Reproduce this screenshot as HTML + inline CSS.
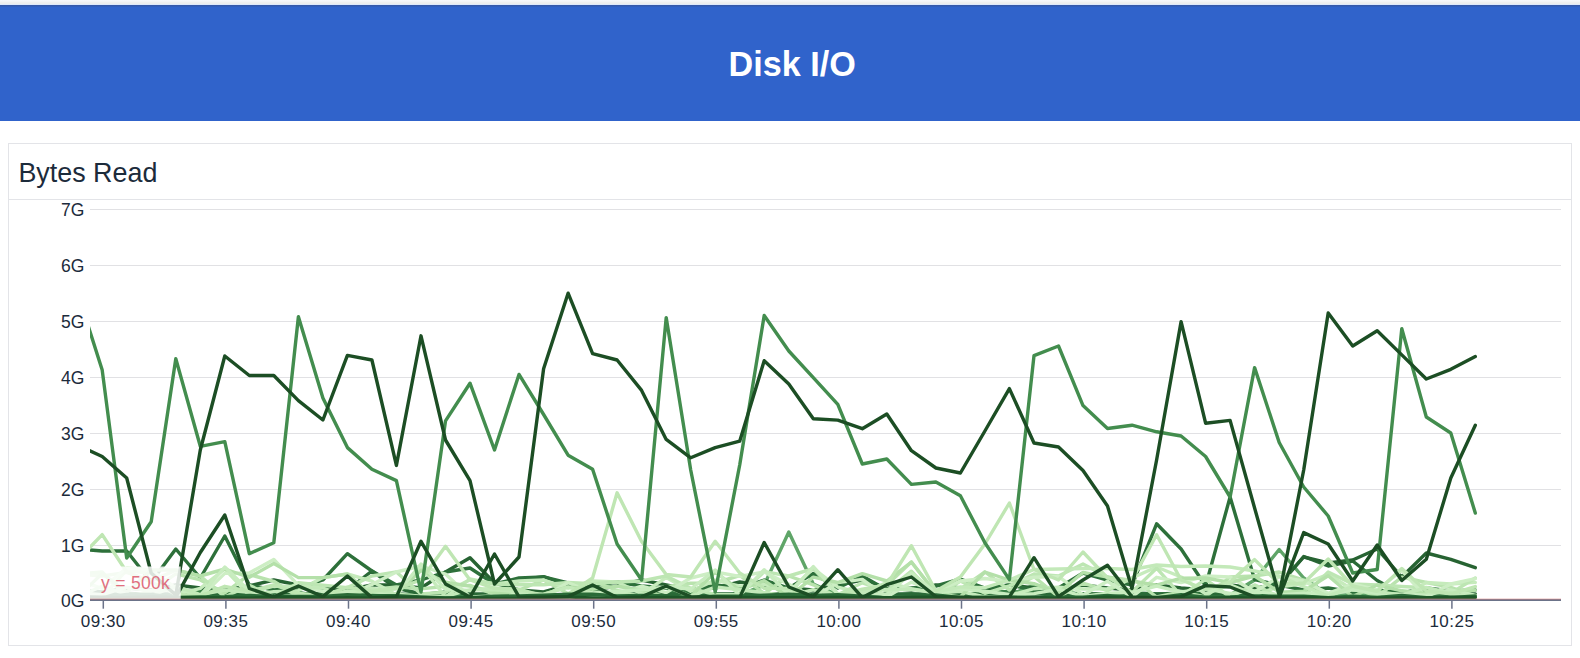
<!DOCTYPE html>
<html><head><meta charset="utf-8"><title>Disk I/O</title>
<style>
html,body{margin:0;padding:0;background:#fff;}
body{width:1580px;height:658px;overflow:hidden;position:relative;font-family:"Liberation Sans",sans-serif;}
.top{position:absolute;left:0;top:0;width:1580px;height:7px;background:linear-gradient(#f6f7fb 0px,#f5f6f9 1px,#efeff0 2.5px,#ededee 3.6px,#dfe9fb 4px,#dde8fb 4.9px,#3658a8 5.1px,#3459ad 6px,#3062c8 7px);}
.hdr{position:absolute;left:0;top:7px;width:1580px;height:113.5px;background:#3063cb;}
.hdr span{position:absolute;left:0;width:1584.4px;text-align:center;top:37.4px;font-size:34.2px;line-height:40px;font-weight:bold;color:#fff;}
.panel{position:absolute;left:8px;top:143px;width:1562px;height:501px;border:1px solid #e3e4e8;background:#fff;}
.ptitle{position:absolute;left:18.4px;top:158px;font-size:26.9px;line-height:30px;color:#1c2b3b;}
.sep{position:absolute;left:9px;top:199px;width:1562px;height:1px;background:#e3e4e8;}
svg{position:absolute;left:0;top:0;}
svg text{font-family:"Liberation Sans",sans-serif;}
</style></head><body>
<div class="top"></div>
<div class="hdr"><span>Disk I/O</span></div>
<div class="panel"></div>
<div class="ptitle">Bytes Read</div>
<div class="sep"></div>
<svg width="1580" height="658" viewBox="0 0 1580 658">
<defs><clipPath id="cp"><rect x="90" y="200" width="1400" height="400"/></clipPath></defs>
<g fill="#e1e1e4">
<rect x="90" y="209" width="1471" height="1"/>
<rect x="90" y="265" width="1471" height="1"/>
<rect x="90" y="321" width="1471" height="1"/>
<rect x="90" y="377" width="1471" height="1"/>
<rect x="90" y="433" width="1471" height="1"/>
<rect x="90" y="489" width="1471" height="1"/>
<rect x="90" y="545" width="1471" height="1"/>
</g>
<g font-size="17.5" fill="#1c2b3b">
<text x="84.4" y="606.5" text-anchor="end">0G</text>
<text x="84.4" y="551.7" text-anchor="end">1G</text>
<text x="84.4" y="495.7" text-anchor="end">2G</text>
<text x="84.4" y="439.7" text-anchor="end">3G</text>
<text x="84.4" y="383.7" text-anchor="end">4G</text>
<text x="84.4" y="327.7" text-anchor="end">5G</text>
<text x="84.4" y="271.7" text-anchor="end">6G</text>
<text x="84.4" y="215.7" text-anchor="end">7G</text>
</g>
<g clip-path="url(#cp)" fill="none" stroke-width="3.4" stroke-linejoin="round" stroke-linecap="round">
<polyline points="77.7,592.4 102.2,594.3 126.7,593.2 151.2,594.6 175.8,594.8 200.3,591.4 224.8,591.1 249.3,596.0 273.8,592.6 298.4,592.4 322.9,597.0 347.4,593.8 371.9,596.0 396.4,593.9 421.0,594.8 445.5,591.9 470.0,594.8 494.5,596.2 519.0,594.1 543.6,595.4 568.1,595.0 592.6,591.4 617.1,595.5 641.6,594.5 666.2,592.8 690.7,591.2 715.2,596.2 739.7,593.8 764.2,595.3 788.8,596.3 813.3,595.3 837.8,596.5 862.3,593.4 886.8,595.8 911.4,593.7 935.9,596.6 960.4,596.3 984.9,591.6 1009.4,591.8 1034.0,592.3 1058.5,596.8 1083.0,593.6 1107.5,594.8 1132.0,592.8 1156.6,594.0 1181.1,593.3 1205.6,593.1 1230.1,594.5 1254.6,594.5 1279.2,596.4 1303.7,595.1 1328.2,596.6 1352.7,596.1 1377.2,596.9 1401.8,595.0 1426.3,592.0 1450.8,596.2 1475.3,596.8" stroke="#3b8147"/>
<polyline points="77.7,595.0 102.2,595.0 126.7,595.0 151.2,595.0 175.8,595.0 200.3,595.0 224.8,595.0 249.3,595.0 273.8,595.0 298.4,595.0 322.9,595.0 347.4,595.0 371.9,595.0 396.4,595.0 421.0,595.0 445.5,595.0 470.0,595.0 494.5,595.0 519.0,595.0 543.6,595.0 568.1,595.0 592.6,595.0 617.1,595.0 641.6,595.0 666.2,595.0 690.7,595.0 715.2,595.0 739.7,595.0 764.2,585.0 788.8,532.0 813.3,584.0 837.8,595.0 862.3,595.0 886.8,595.0 911.4,595.0 935.9,595.0 960.4,595.0 984.9,595.0 1009.4,595.0 1034.0,585.0 1058.5,590.0 1083.0,595.0 1107.5,595.0 1132.0,595.0 1156.6,595.0 1181.1,595.0 1205.6,595.0 1230.1,595.0 1254.6,580.0 1279.2,549.5 1303.7,578.0 1328.2,595.0 1352.7,595.0 1377.2,595.0 1401.8,595.0 1426.3,595.0 1450.8,595.0 1475.3,595.0" stroke="#5fa568"/>
<polyline points="77.7,594.0 102.2,594.0 126.7,594.0 151.2,594.0 175.8,594.0 200.3,594.0 224.8,594.0 249.3,594.0 273.8,594.0 298.4,594.0 322.9,594.0 347.4,590.0 371.9,571.0 396.4,588.0 421.0,594.0 445.5,594.0 470.0,594.0 494.5,594.0 519.0,580.0 543.6,576.7 568.1,585.0 592.6,594.0 617.1,594.0 641.6,594.0 666.2,594.0 690.7,594.0 715.2,594.0 739.7,594.0 764.2,594.0 788.8,594.0 813.3,594.0 837.8,594.0 862.3,594.0 886.8,594.0 911.4,594.0 935.9,594.0 960.4,594.0 984.9,594.0 1009.4,594.0 1034.0,594.0 1058.5,594.0 1083.0,594.0 1107.5,594.0 1132.0,594.0 1156.6,594.0 1181.1,594.0 1205.6,594.0 1230.1,594.0 1254.6,594.0 1279.2,585.0 1303.7,556.5 1328.2,566.0 1352.7,561.0 1377.2,580.5 1401.8,594.0 1426.3,594.0 1450.8,594.0 1475.3,594.0" stroke="#2a6a37"/>
<polyline points="77.7,590.0 102.2,592.0 126.7,588.0 151.2,590.0 175.8,585.0 200.3,588.0 224.8,590.0 249.3,586.0 273.8,580.0 298.4,585.0 322.9,588.0 347.4,590.0 371.9,585.0 396.4,585.0 421.0,588.0 445.5,572.0 470.0,557.7 494.5,583.0 519.0,590.0 543.6,592.0 568.1,585.0 592.6,590.0 617.1,586.0 641.6,580.0 666.2,585.0 690.7,590.0 715.2,588.0 739.7,582.0 764.2,585.0 788.8,588.0 813.3,590.0 837.8,585.0 862.3,580.0 886.8,588.0 911.4,590.0 935.9,585.0 960.4,588.0 984.9,590.0 1009.4,585.0 1034.0,588.0 1058.5,590.0 1083.0,585.0 1107.5,588.0 1132.0,590.0 1156.6,585.0 1181.1,588.0 1205.6,590.0 1230.1,585.0 1254.6,588.0 1279.2,585.0 1303.7,557.0 1328.2,563.0 1352.7,560.0 1377.2,549.0 1401.8,577.0 1426.3,553.0 1450.8,559.3 1475.3,567.7" stroke="#276332"/>
<polyline points="77.7,549.0 102.2,551.0 126.7,551.0 151.2,582.0 175.8,549.0 200.3,578.0 224.8,536.0 249.3,585.0 273.8,590.0 298.4,588.0 322.9,580.0 347.4,553.7 371.9,571.0 396.4,585.0 421.0,580.0 445.5,572.0 470.0,568.0 494.5,584.0 519.0,578.0 543.6,577.0 568.1,583.0 592.6,586.0 617.1,582.0 641.6,586.0 666.2,588.0 690.7,590.0 715.2,585.0 739.7,588.0 764.2,580.0 788.8,588.0 813.3,573.5 837.8,588.0 862.3,576.0 886.8,590.0 911.4,588.0 935.9,586.0 960.4,579.0 984.9,588.0 1009.4,585.0 1034.0,590.0 1058.5,588.0 1083.0,573.0 1107.5,580.0 1132.0,585.0 1156.6,523.8 1181.1,549.0 1205.6,586.0 1230.1,497.0 1254.6,579.6 1279.2,585.0 1303.7,590.0 1328.2,588.0 1352.7,592.0 1377.2,590.0 1401.8,593.0 1426.3,588.0 1450.8,591.0 1475.3,590.0" stroke="#2d703a"/>
<polyline points="77.7,574.0 102.2,572.0 126.7,597.0 151.2,591.2 175.8,573.9 200.3,579.9 224.8,592.9 249.3,574.6 273.8,581.3 298.4,596.7 322.9,597.0 347.4,592.9 371.9,589.6 396.4,586.9 421.0,588.9 445.5,586.3 470.0,585.4 494.5,594.4 519.0,590.0 543.6,580.0 568.1,593.7 592.6,581.0 617.1,590.5 641.6,597.0 666.2,586.6 690.7,583.2 715.2,583.0 739.7,575.5 764.2,593.5 788.8,576.0 813.3,584.8 837.8,597.0 862.3,594.7 886.8,584.9 911.4,562.0 935.9,593.0 960.4,589.1 984.9,572.0 1009.4,590.1 1034.0,576.5 1058.5,597.0 1083.0,583.2 1107.5,590.7 1132.0,578.0 1156.6,597.0 1181.1,591.9 1205.6,596.8 1230.1,577.0 1254.6,576.0 1279.2,572.0 1303.7,580.0 1328.2,595.9 1352.7,587.2 1377.2,596.7 1401.8,577.2 1426.3,582.5 1450.8,587.3 1475.3,596.2" stroke="#b9e3ae"/>
<polyline points="77.7,591.1 102.2,597.0 126.7,570.2 151.2,573.7 175.8,594.6 200.3,588.4 224.8,569.0 249.3,595.3 273.8,591.6 298.4,590.6 322.9,577.6 347.4,574.0 371.9,581.2 396.4,594.9 421.0,566.0 445.5,597.0 470.0,579.0 494.5,584.0 519.0,581.0 543.6,580.0 568.1,588.2 592.6,581.0 617.1,582.0 641.6,593.8 666.2,577.6 690.7,591.3 715.2,580.1 739.7,586.1 764.2,584.4 788.8,592.0 813.3,568.6 837.8,587.1 862.3,592.8 886.8,582.5 911.4,588.7 935.9,593.3 960.4,591.4 984.9,597.0 1009.4,595.5 1034.0,588.7 1058.5,587.1 1083.0,589.0 1107.5,588.9 1132.0,578.0 1156.6,567.0 1181.1,577.0 1205.6,593.9 1230.1,584.8 1254.6,594.7 1279.2,586.8 1303.7,583.9 1328.2,574.3 1352.7,589.7 1377.2,593.2 1401.8,597.0 1426.3,582.5 1450.8,584.0 1475.3,582.4" stroke="#c6ebbc"/>
<polyline points="77.7,574.0 102.2,576.0 126.7,572.4 151.2,581.0 175.8,570.1 200.3,576.0 224.8,597.0 249.3,585.3 273.8,597.0 298.4,582.8 322.9,585.2 347.4,587.6 371.9,576.0 396.4,572.0 421.0,593.9 445.5,592.2 470.0,579.8 494.5,584.0 519.0,584.7 543.6,584.8 568.1,582.5 592.6,583.7 617.1,582.0 641.6,581.0 666.2,576.0 690.7,588.3 715.2,594.5 739.7,594.6 764.2,571.7 788.8,576.0 813.3,568.6 837.8,594.7 862.3,582.8 886.8,590.8 911.4,571.2 935.9,596.8 960.4,581.0 984.9,593.3 1009.4,585.9 1034.0,574.0 1058.5,576.0 1083.0,564.0 1107.5,577.0 1132.0,591.9 1156.6,568.2 1181.1,595.6 1205.6,579.3 1230.1,597.0 1254.6,584.9 1279.2,597.0 1303.7,596.4 1328.2,572.0 1352.7,584.0 1377.2,585.0 1401.8,586.5 1426.3,587.7 1450.8,593.1 1475.3,578.0" stroke="#bde6b3"/>
<polyline points="77.7,580.1 102.2,588.4 126.7,568.0 151.2,570.0 175.8,587.9 200.3,597.0 224.8,573.4 249.3,573.0 273.8,559.4 298.4,585.3 322.9,591.6 347.4,595.7 371.9,584.5 396.4,572.0 421.0,566.0 445.5,574.0 470.0,596.9 494.5,595.9 519.0,594.3 543.6,597.0 568.1,582.5 592.6,593.1 617.1,594.1 641.6,586.2 666.2,592.6 690.7,578.0 715.2,572.0 739.7,576.4 764.2,571.9 788.8,584.2 813.3,597.0 837.8,582.6 862.3,579.4 886.8,597.0 911.4,582.1 935.9,591.7 960.4,581.0 984.9,578.5 1009.4,581.5 1034.0,577.3 1058.5,576.4 1083.0,594.9 1107.5,581.2 1132.0,597.0 1156.6,577.3 1181.1,582.5 1205.6,576.0 1230.1,577.0 1254.6,591.8 1279.2,576.9 1303.7,581.0 1328.2,593.3 1352.7,584.0 1377.2,589.8 1401.8,570.5 1426.3,597.0 1450.8,584.0 1475.3,578.6" stroke="#cdeec4"/>
<polyline points="77.7,597.0 102.2,573.6 126.7,592.2 151.2,570.0 175.8,570.0 200.3,576.0 224.8,569.0 249.3,577.3 273.8,563.5 298.4,577.6 322.9,577.6 347.4,574.0 371.9,595.2 396.4,593.4 421.0,570.4 445.5,582.2 470.0,586.1 494.5,591.8 519.0,597.0 543.6,594.2 568.1,586.9 592.6,589.4 617.1,586.2 641.6,590.3 666.2,597.0 690.7,596.4 715.2,572.0 739.7,590.1 764.2,580.6 788.8,597.0 813.3,577.1 837.8,582.5 862.3,573.6 886.8,581.0 911.4,562.0 935.9,593.7 960.4,597.0 984.9,572.0 1009.4,580.0 1034.0,583.7 1058.5,592.8 1083.0,572.5 1107.5,577.0 1132.0,581.0 1156.6,585.2 1181.1,578.2 1205.6,578.0 1230.1,582.5 1254.6,576.0 1279.2,592.1 1303.7,591.1 1328.2,575.7 1352.7,596.7 1377.2,585.0 1401.8,590.8 1426.3,593.5 1450.8,590.5 1475.3,590.3" stroke="#b4e0a9"/>
<polyline points="77.7,592.9 102.2,594.7 126.7,587.2 151.2,590.8 175.8,587.6 200.3,595.3 224.8,567.0 249.3,591.0 273.8,597.0 298.4,595.4 322.9,596.7 347.4,591.0 371.9,591.4 396.4,594.0 421.0,564.0 445.5,589.2 470.0,590.4 494.5,587.6 519.0,590.1 543.6,596.9 568.1,596.6 592.6,592.9 617.1,591.5 641.6,589.7 666.2,587.0 690.7,589.0 715.2,570.0 739.7,595.5 764.2,569.7 788.8,594.6 813.3,566.6 837.8,593.6 862.3,593.3 886.8,594.4 911.4,573.0 935.9,593.0 960.4,589.1 984.9,591.3 1009.4,594.5 1034.0,593.6 1058.5,589.2 1083.0,596.4 1107.5,593.1 1132.0,592.4 1156.6,586.1 1181.1,592.0 1205.6,588.8 1230.1,593.4 1254.6,591.1 1279.2,595.0 1303.7,593.1 1328.2,594.8 1352.7,589.8 1377.2,593.1 1401.8,594.1 1426.3,595.1 1450.8,589.9 1475.3,595.3" stroke="#c8ecbf"/>
<polyline points="77.7,596.7 102.2,586.3 126.7,594.2 151.2,595.3 175.8,586.2 200.3,594.7 224.8,590.0 249.3,592.4 273.8,586.1 298.4,586.5 322.9,588.0 347.4,596.5 371.9,588.2 396.4,594.3 421.0,596.2 445.5,596.4 470.0,589.8 494.5,589.9 519.0,591.8 543.6,594.5 568.1,587.2 592.6,594.2 617.1,594.8 641.6,595.5 666.2,586.4 690.7,596.4 715.2,587.0 739.7,589.7 764.2,592.7 788.8,596.1 813.3,589.7 837.8,596.2 862.3,592.0 886.8,589.4 911.4,589.5 935.9,592.0 960.4,586.9 984.9,587.6 1009.4,580.0 1034.0,569.5 1058.5,569.0 1083.0,568.5 1107.5,568.5 1132.0,569.5 1156.6,565.0 1181.1,566.5 1205.6,566.0 1230.1,567.0 1254.6,571.0 1279.2,576.0 1303.7,586.6 1328.2,596.1 1352.7,586.4 1377.2,591.4 1401.8,595.2 1426.3,587.4 1450.8,594.0 1475.3,596.4" stroke="#c3e9b9"/>
<polyline points="77.7,560.0 102.2,534.6 126.7,572.0 151.2,582.0 175.8,594.1 200.3,596.1 224.8,586.3 249.3,591.1 273.8,585.0 298.4,593.1 322.9,595.9 347.4,587.2 371.9,591.2 396.4,588.7 421.0,580.0 445.5,546.3 470.0,580.0 494.5,588.4 519.0,589.1 543.6,596.1 568.1,594.4 592.6,578.0 617.1,492.8 641.6,541.5 666.2,574.5 690.7,577.0 715.2,541.3 739.7,573.0 764.2,588.3 788.8,588.4 813.3,596.8 837.8,595.6 862.3,589.2 886.8,585.0 911.4,545.7 935.9,591.0 960.4,577.0 984.9,544.0 1009.4,503.0 1034.0,569.5 1058.5,580.0 1083.0,552.0 1107.5,578.0 1132.0,580.0 1156.6,534.7 1181.1,580.0 1205.6,589.3 1230.1,582.0 1254.6,559.6 1279.2,584.0 1303.7,583.0 1328.2,559.0 1352.7,586.0 1377.2,591.3 1401.8,568.5 1426.3,591.3 1450.8,593.8 1475.3,586.6" stroke="#bfe6b3"/>
<polyline points="77.7,597.8 102.2,597.8 126.7,594.4 151.2,594.5 175.8,597.4 200.3,597.0 224.8,596.7 249.3,595.4 273.8,596.5 298.4,596.5 322.9,596.4 347.4,594.8 371.9,595.8 396.4,595.7 421.0,596.9 445.5,598.0 470.0,597.8 494.5,596.3 519.0,595.9 543.6,595.2 568.1,594.3 592.6,594.3 617.1,596.0 641.6,595.4 666.2,595.6 690.7,597.6 715.2,596.2 739.7,596.3 764.2,595.1 788.8,594.3 813.3,595.4 837.8,594.7 862.3,596.1 886.8,598.0 911.4,596.8 935.9,594.9 960.4,597.6 984.9,597.2 1009.4,597.0 1034.0,597.6 1058.5,597.1 1083.0,597.2 1107.5,595.5 1132.0,597.9 1156.6,597.9 1181.1,594.8 1205.6,597.1 1230.1,596.9 1254.6,596.0 1279.2,596.2 1303.7,596.1 1328.2,597.7 1352.7,596.1 1377.2,597.4 1401.8,595.5 1426.3,597.6 1450.8,597.6 1475.3,596.0" stroke="#2a6a37"/>
<polyline points="77.7,597.3 102.2,598.3 126.7,598.2 151.2,597.5 175.8,597.8 200.3,597.7 224.8,598.0 249.3,598.2 273.8,597.2 298.4,597.1 322.9,598.3 347.4,597.7 371.9,598.2 396.4,597.1 421.0,597.7 445.5,598.1 470.0,597.4 494.5,598.4 519.0,598.4 543.6,597.1 568.1,597.1 592.6,597.9 617.1,598.4 641.6,597.6 666.2,597.4 690.7,597.7 715.2,597.1 739.7,597.4 764.2,597.7 788.8,597.8 813.3,597.4 837.8,597.4 862.3,597.4 886.8,597.7 911.4,597.5 935.9,597.1 960.4,598.3 984.9,597.9 1009.4,598.0 1034.0,597.4 1058.5,598.5 1083.0,598.3 1107.5,597.3 1132.0,597.6 1156.6,598.1 1181.1,598.1 1205.6,598.4 1230.1,597.7 1254.6,598.3 1279.2,598.0 1303.7,597.5 1328.2,597.9 1352.7,598.3 1377.2,598.3 1401.8,597.8 1426.3,597.9 1450.8,597.1 1475.3,597.4" stroke="#1d5628"/>
<polyline points="77.7,293.0 102.2,370.1 126.7,558.0 151.2,521.7 175.8,358.7 200.3,446.3 224.8,441.6 249.3,553.7 273.8,542.8 298.4,316.8 322.9,398.0 347.4,447.6 371.9,469.2 396.4,480.6 421.0,592.0 445.5,420.9 470.0,383.2 494.5,450.0 519.0,374.4 543.6,414.5 568.1,455.2 592.6,469.2 617.1,544.0 641.6,580.0 666.2,317.6 690.7,470.0 715.2,592.0 739.7,465.0 764.2,315.5 788.8,351.0 813.3,377.7 837.8,404.4 862.3,464.0 886.8,459.0 911.4,484.4 935.9,482.0 960.4,495.8 984.9,542.8 1009.4,579.6 1034.0,355.6 1058.5,346.0 1083.0,405.6 1107.5,428.5 1132.0,425.2 1156.6,431.8 1181.1,436.0 1205.6,456.5 1230.1,497.0 1254.6,367.6 1279.2,442.5 1303.7,487.0 1328.2,516.0 1352.7,573.0 1377.2,569.5 1401.8,328.7 1426.3,417.0 1450.8,433.0 1475.3,513.0" stroke="#438d4e"/>
<polyline points="77.7,596.6 102.2,597.1 126.7,597.6 151.2,596.9 175.8,597.4 200.3,552.5 224.8,515.0 249.3,588.5 273.8,596.9 298.4,586.0 322.9,596.6 347.4,576.0 371.9,597.6 396.4,596.9 421.0,541.3 445.5,584.0 470.0,597.1 494.5,554.0 519.0,596.9 543.6,597.4 568.1,596.6 592.6,585.0 617.1,597.6 641.6,596.9 666.2,586.0 690.7,596.6 715.2,597.1 739.7,597.6 764.2,542.5 788.8,587.0 813.3,596.6 837.8,569.7 862.3,597.6 886.8,584.7 911.4,577.0 935.9,596.6 960.4,597.1 984.9,597.6 1009.4,596.9 1034.0,557.7 1058.5,596.6 1083.0,580.0 1107.5,565.3 1132.0,596.9 1156.6,597.4 1181.1,596.6 1205.6,585.6 1230.1,587.0 1254.6,596.9 1279.2,597.4 1303.7,532.6 1328.2,544.0 1352.7,581.0 1377.2,545.0 1401.8,580.5 1426.3,559.3 1450.8,478.0 1475.3,425.2" stroke="#1c4e24"/>
<polyline points="77.7,445.0 102.2,456.5 126.7,478.0 151.2,573.0 175.8,595.0 200.3,450.0 224.8,356.0 249.3,375.5 273.8,375.5 298.4,400.6 322.9,420.0 347.4,355.4 371.9,360.0 396.4,465.4 421.0,335.8 445.5,440.0 470.0,480.6 494.5,584.0 519.0,557.0 543.6,368.8 568.1,293.2 592.6,353.6 617.1,360.0 641.6,390.4 666.2,439.4 690.7,457.8 715.2,447.6 739.7,441.2 764.2,360.7 788.8,384.0 813.3,418.8 837.8,420.1 862.3,428.7 886.8,414.0 911.4,450.7 935.9,468.0 960.4,473.0 984.9,431.0 1009.4,388.6 1034.0,443.0 1058.5,447.0 1083.0,470.5 1107.5,506.0 1132.0,588.5 1156.6,460.0 1181.1,321.6 1205.6,423.2 1230.1,420.4 1254.6,508.0 1279.2,595.2 1303.7,470.0 1328.2,313.0 1352.7,346.0 1377.2,330.8 1401.8,354.9 1426.3,379.0 1450.8,369.3 1475.3,356.6" stroke="#1c4e24"/>
</g>
<rect x="90" y="566.5" width="90.7" height="33" fill="#fff" fill-opacity="0.84"/>
<text x="101" y="588.6" font-size="17.5" letter-spacing="0.3" fill="#e0707f">y = 500k</text>
<rect x="90" y="599" width="1471" height="2" fill="#6b7389"/>
<rect x="90" y="598.6" width="1471" height="0.9" fill="#d98a8a" fill-opacity="0.75"/>
<g stroke="#6b7389" stroke-width="1.5">
<line x1="103.3" x2="103.3" y1="600" y2="608.7"/>
<line x1="225.9" x2="225.9" y1="600" y2="608.7"/>
<line x1="348.5" x2="348.5" y1="600" y2="608.7"/>
<line x1="471.1" x2="471.1" y1="600" y2="608.7"/>
<line x1="593.7" x2="593.7" y1="600" y2="608.7"/>
<line x1="716.3" x2="716.3" y1="600" y2="608.7"/>
<line x1="838.9" x2="838.9" y1="600" y2="608.7"/>
<line x1="961.5" x2="961.5" y1="600" y2="608.7"/>
<line x1="1084.1" x2="1084.1" y1="600" y2="608.7"/>
<line x1="1206.7" x2="1206.7" y1="600" y2="608.7"/>
<line x1="1329.3" x2="1329.3" y1="600" y2="608.7"/>
<line x1="1451.9" x2="1451.9" y1="600" y2="608.7"/>
</g>
<g font-size="17" fill="#1c2b3b" letter-spacing="0.5">
<text x="103.3" y="626.6" text-anchor="middle">09:30</text>
<text x="225.9" y="626.6" text-anchor="middle">09:35</text>
<text x="348.5" y="626.6" text-anchor="middle">09:40</text>
<text x="471.1" y="626.6" text-anchor="middle">09:45</text>
<text x="593.7" y="626.6" text-anchor="middle">09:50</text>
<text x="716.3" y="626.6" text-anchor="middle">09:55</text>
<text x="838.9" y="626.6" text-anchor="middle">10:00</text>
<text x="961.5" y="626.6" text-anchor="middle">10:05</text>
<text x="1084.1" y="626.6" text-anchor="middle">10:10</text>
<text x="1206.7" y="626.6" text-anchor="middle">10:15</text>
<text x="1329.3" y="626.6" text-anchor="middle">10:20</text>
<text x="1451.9" y="626.6" text-anchor="middle">10:25</text>
</g>
</svg>
</body></html>
